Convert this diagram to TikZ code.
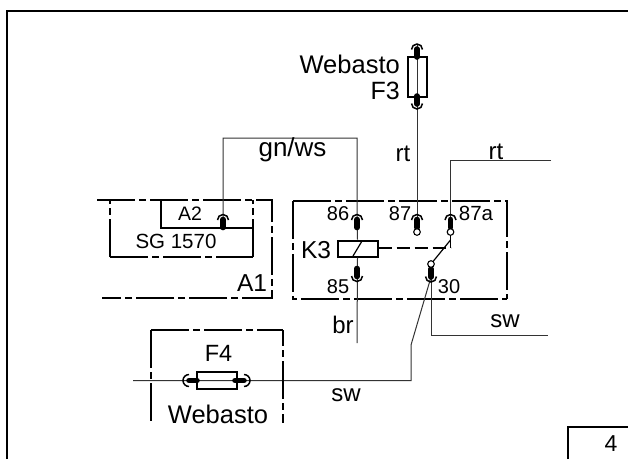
\documentclass[tikz,border=0pt]{standalone}
\usepackage{fontspec}
\setmainfont{Liberation Sans}
\tikzset{
  wire/.style={line width=1pt,draw=black!80},
  frameline/.style={line width=2.2pt,draw=black},
  boxline/.style={line width=2pt,draw=black},
  dashbox/.style={line width=2.2pt,draw=black,dash pattern=on 38pt off 4pt on 7pt off 4pt},
  pill/.style={line width=5.6pt,line cap=round,draw=black},
  capline/.style={line width=1.5pt,draw=black},
  lab/.style={inner sep=0pt,font=\fontsize{#1}{#1}\selectfont},
  lab/.default=20,
  contact/.style={circle,draw=black,line width=1.1pt,fill=white,inner sep=0pt,minimum size=6.6pt}
}
% the y axis points down here, so arc angles are mirrored
\newcommand{\pinup}[2]{\draw[pill] (#1,#2-0.5) -- (#1,#2+7.5);\draw[capline] (#1-5.5,#2) arc[start angle=180,end angle=360,radius=5.5];}
\newcommand{\pindown}[2]{\draw[pill] (#1,#2+0.5) -- (#1,#2-7.5);\draw[capline] (#1-5.5,#2) arc[start angle=180,end angle=0,radius=5.5];}
\newcommand{\pinleft}[2]{\draw[pill] (#1,#2) -- (#1+8,#2);\draw[capline] (#1,#2-6) arc[start angle=270,end angle=90,radius=6];}
\newcommand{\pinright}[2]{\draw[pill] (#1,#2) -- (#1-9,#2);\draw[capline] (#1,#2-6) arc[start angle=-90,end angle=90,radius=6];}
\begin{document}
\begin{tikzpicture}[x=1pt,y=-1pt]
\useasboundingbox (0,0) rectangle (628,459);
\fill[white] (0,0) rectangle (628,459);
% sheet frame
\coordinate (fTL) at (7,11); \coordinate (fTR) at (628,11); \coordinate (fBL) at (7,459);
\draw[frameline] (fBL) -- (fTL) -- (fTR);
\coordinate (nA) at (568,459); \coordinate (nB) at (568,427); \coordinate (nC) at (628,427);
\draw[frameline] (nA) -- (nB) -- (nC);
\node[lab=23] (page) at (611,444) {4};
% A1 and SG
\coordinate (a1a) at (97,200); \coordinate (a1b) at (272,200); \coordinate (a1c) at (272,298); \coordinate (a1d) at (102,298);
\draw[dashbox] (a1a) -- (a1b) -- (a1c) -- (a1d);
\coordinate (sga) at (110,200); \coordinate (sgb) at (110,257); \coordinate (sgc) at (253,257); \coordinate (sgd) at (253,200);
\draw[dashbox] (sgb) -- (sga);
\draw[dashbox] (sgb) -- (sgc);
\draw[dashbox] (sgc) -- (sgd);
\coordinate (a2a) at (161,200); \coordinate (a2b) at (161,228); \coordinate (a2c) at (253,228);
\draw[boxline] (a2a) -- (a2b) -- (a2c);
\node[lab=19.5] (tA2) at (190,214) {A2};
\node[lab=20.5] (tSG) at (176,241) {SG 1570};
\node[lab=24.5] (tA1) at (252,283) {A1};
% relay box
\coordinate (ra) at (293,201); \coordinate (rb) at (507,201); \coordinate (rc) at (507,299); \coordinate (rd) at (293,299);
\draw[dashbox] (ra) -- (rb) -- (rc);
\draw[dashbox] (ra) -- (rd) -- (rc);
% coil
\node[draw=black,line width=2pt,minimum width=40pt,minimum height=16pt,inner sep=0pt] (coil) at (357.5,248.5) {};
% wires
\coordinate (p86) at (357,220); \coordinate (w1) at (357,138); \coordinate (w2) at (223,138); \coordinate (pA2) at (223,227);
\draw[wire] (coil.north) -- (p86) -- (w1) -- (w2) -- (pA2);
\coordinate (w85) at (357,343);
\draw[wire] (coil.south) -- (w85);
\coordinate (sl1) at (353,256); \coordinate (sl2) at (362,241);
\draw[line width=1.2pt] (sl1) -- (sl2);
% F3 fuse
\node[draw=black,line width=2pt,minimum width=19pt,minimum height=40pt,inner sep=0pt] (f3) at (417,76.5) {};
\coordinate (f3t) at (417,44); \coordinate (p87) at (417,220); \coordinate (c87) at (417,232);
\draw[wire] (f3t) -- (p87);
\pinup{417}{49.5}
\pindown{417}{103.5}
% 87a
\coordinate (r1) at (551,160); \coordinate (r2) at (450.5,160); \coordinate (c87a) at (450.5,232); \coordinate (sw1) at (450.5,240); \coordinate (sw2) at (450.5,248);
\draw[wire] (r1) -- (r2) -- (c87a);
\draw[line width=1.2pt] (c87a) -- (sw2);
\coordinate (c30) at (431,264);
\draw[line width=1.2pt] (sw1) -- (c30);
\coordinate (cs) at (coil.east |- sw2);
\draw[line width=1.2pt,dash pattern=on 13pt off 5pt] (cs) -- (sw2);
% 30 wires
\coordinate (s1) at (431,335); \coordinate (s2) at (548,335);
\draw[wire] (c30) -- (s1) -- (s2);
\coordinate (d1) at (431,277); \coordinate (d2) at (411,345); \coordinate (d3) at (411,380.5); \coordinate (fl) at (133,380.5);
\draw[wire] (d1) -- (d2) -- (d3) -- (fl);
% pins
\pinup{357}{220}
\pinup{417}{220}
\pinup{450.5}{220}
\pinup{223}{220}
\pindown{357}{276}
\pindown{431}{276.5}
\node[contact] (k87) at (c87) {};
\node[contact] (k87a) at (c87a) {};
\node[contact] (k30) at (c30) {};
% F4 enclosure
\coordinate (e1) at (151,423); \coordinate (e2) at (151,330); \coordinate (e3) at (283,330); \coordinate (e4) at (283,423);
\draw[dashbox] (e2) -- (e1);
\draw[dashbox] (e2) -- (e3);
\draw[dashbox,dash phase=22pt] (e3) -- (e4);
\node[draw=black,line width=2pt,minimum width=40pt,minimum height=17pt,inner sep=0pt] (f4) at (217,380) {};
\pinleft{189}{380.5}
\pinright{244}{380.5}
% labels
\node[lab=25.5,anchor=east] (tW1) at (400,64) {Webasto};
\node[lab=25,anchor=east] (tF3) at (400,91) {F3};
\node[lab=26] (tgn) at (292.5,150) {gn/ws};
\node[lab=24] (trt1) at (403,154) {rt};
\node[lab=24] (trt2) at (496,152) {rt};
\node[lab=20] (t86) at (338,214) {86};
\node[lab=20] (t87) at (400,214) {87};
\node[lab=20.5] (t87a) at (476,213) {87a};
\node[lab=24.5] (tK3) at (316,250) {K3};
\node[lab=20] (t85) at (338,287) {85};
\node[lab=20] (t30) at (449,287) {30};
\node[lab=24] (tbr) at (343,325) {br};
\node[lab=24] (tsw1) at (505,321) {sw};
\node[lab=24] (tsw2) at (346,395) {sw};
\node[lab=23.5] (tF4) at (218.5,353) {F4};
\node[lab=25.5] (tW2) at (218,414) {Webasto};
\end{tikzpicture}
\end{document}
